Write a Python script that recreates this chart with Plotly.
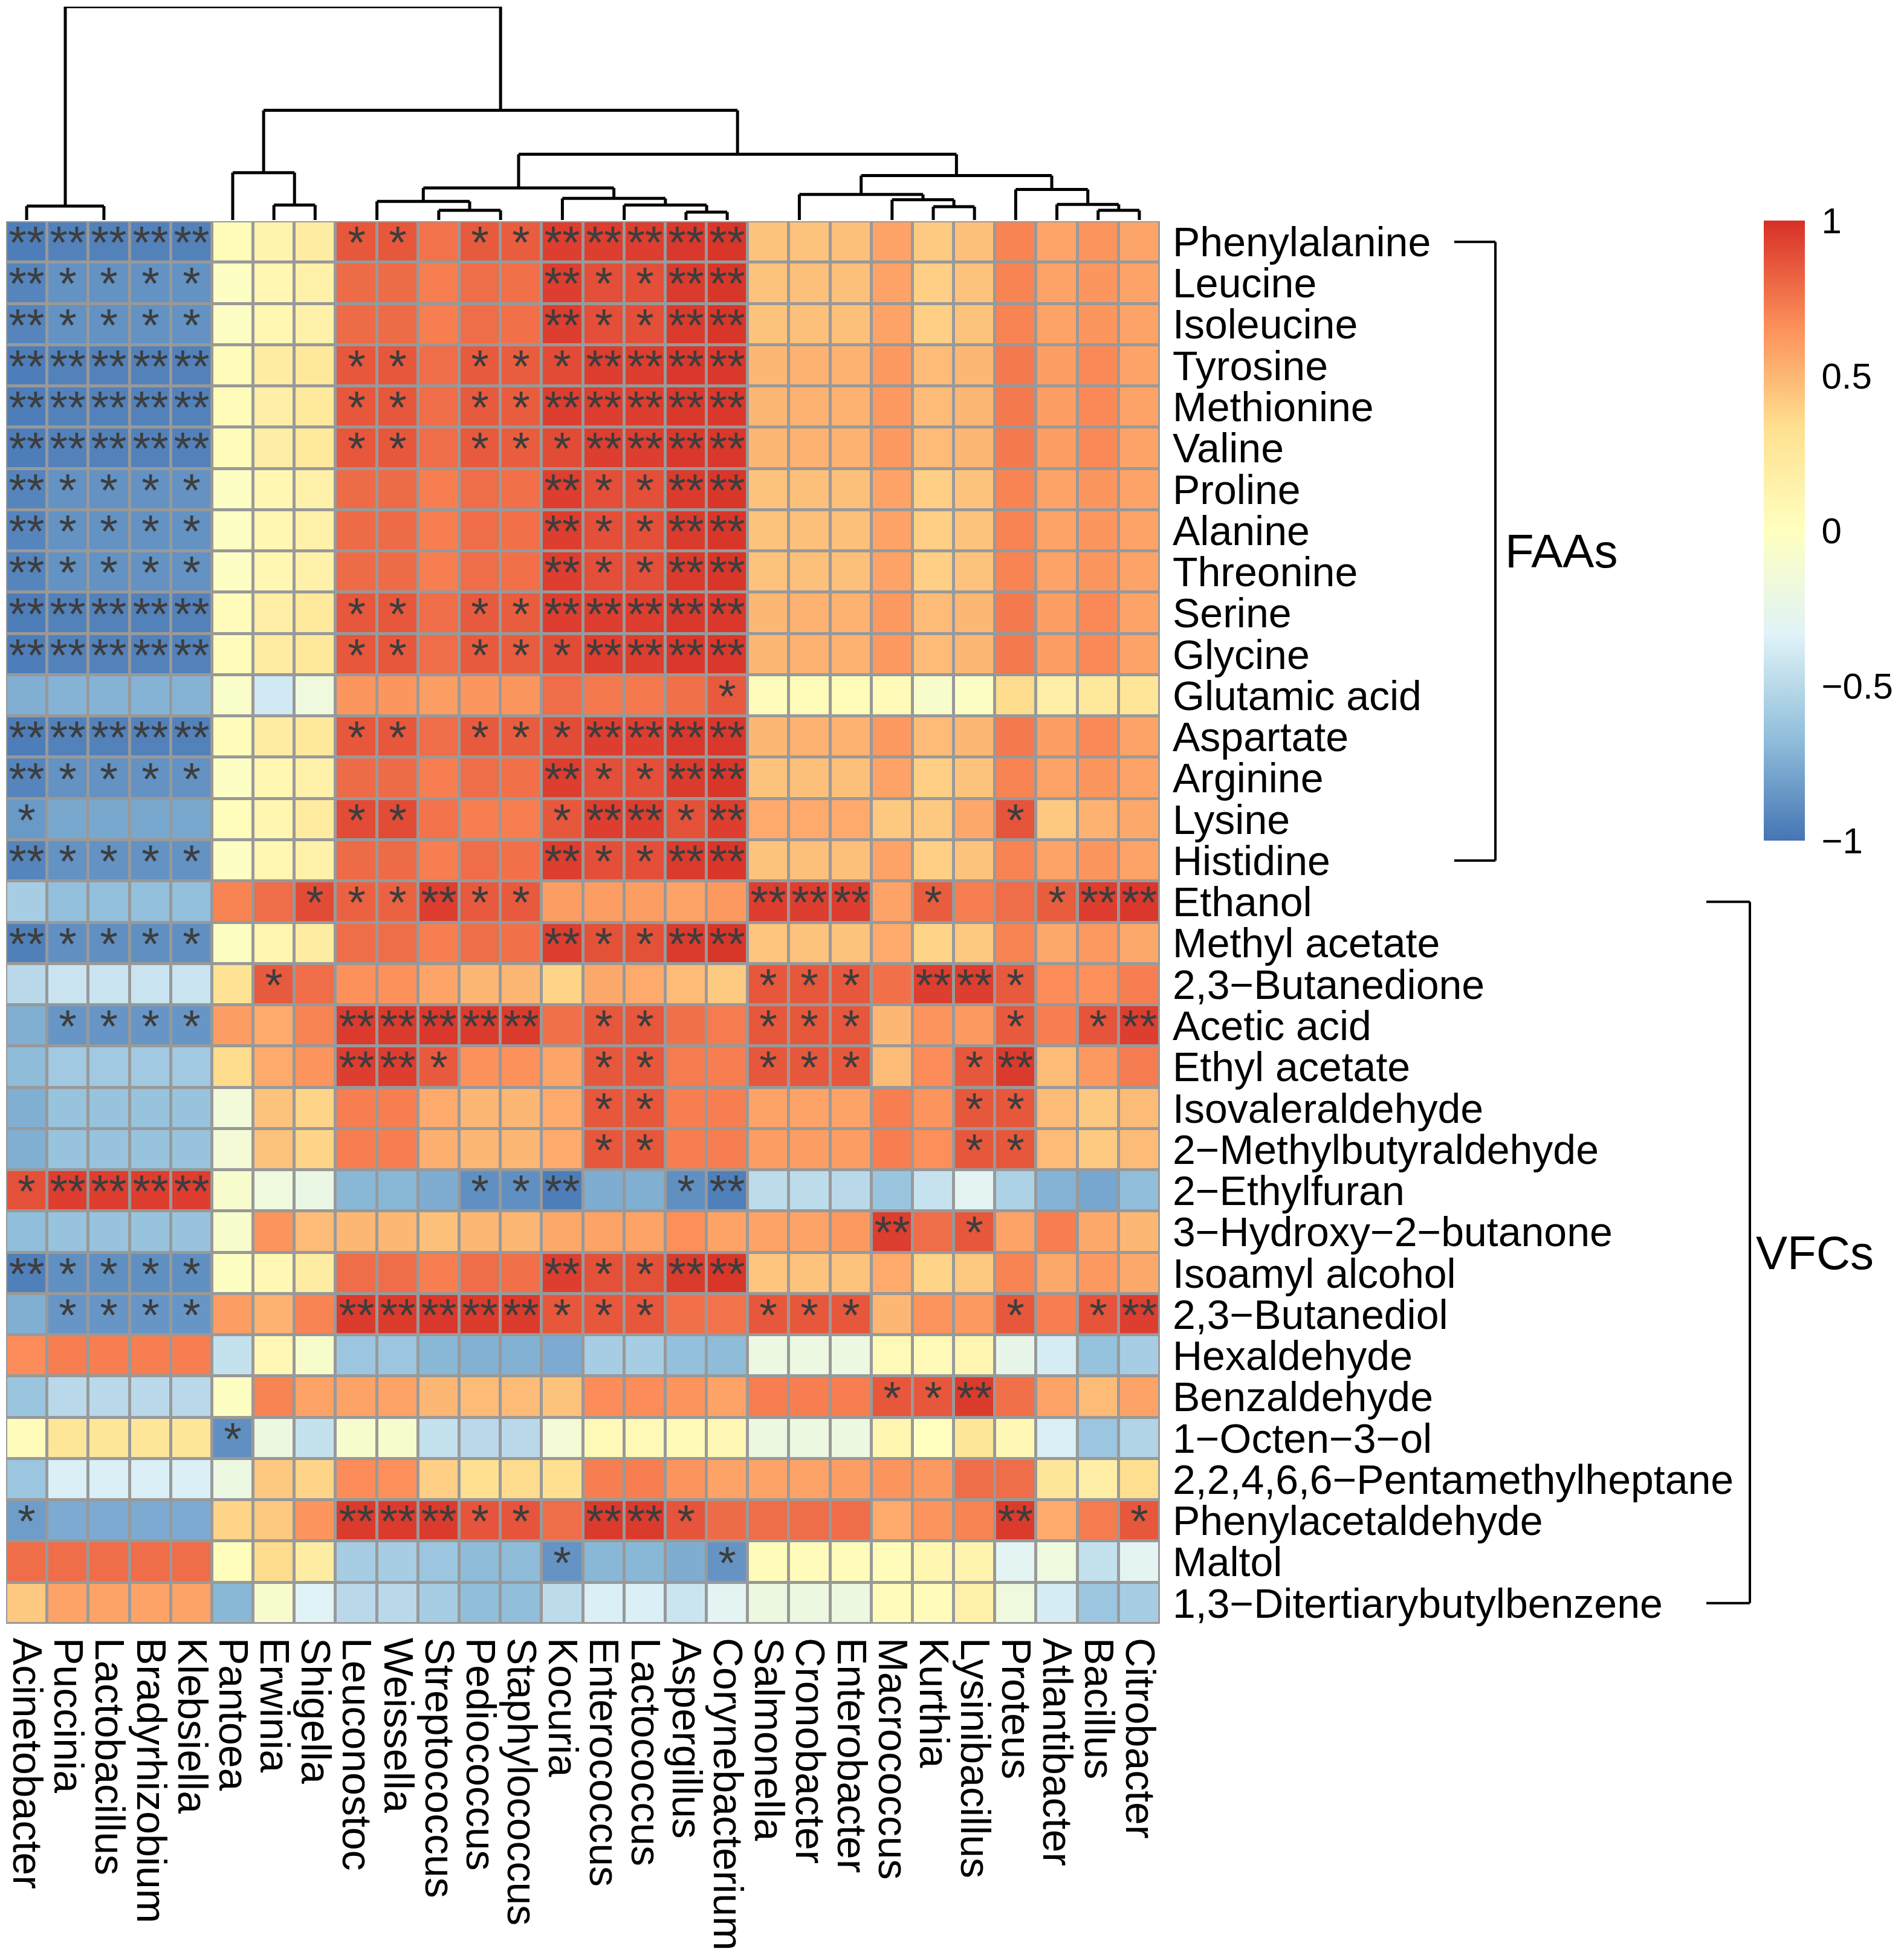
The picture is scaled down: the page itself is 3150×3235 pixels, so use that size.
import plotly.graph_objects as go

# ---------------- data ----------------
columns = ["Acinetobacter", "Puccinia", "Lactobacillus", "Bradyrhizobium", "Klebsiella",
           "Pantoea", "Erwinia", "Shigella", "Leuconostoc", "Weissella", "Streptococcus",
           "Pediococcus", "Staphylococcus", "Kocuria", "Enterococcus", "Lactococcus",
           "Aspergillus", "Corynebacterium", "Salmonella", "Cronobacter", "Enterobacter",
           "Macrococcus", "Kurthia", "Lysinibacillus", "Proteus", "Atlantibacter",
           "Bacillus", "Citrobacter"]

faa_rows = ["Phenylalanine", "Leucine", "Isoleucine", "Tyrosine", "Methionine", "Valine",
            "Proline", "Alanine", "Threonine", "Serine", "Glycine", "Glutamic acid",
            "Aspartate", "Arginine", "Lysine", "Histidine"]
vfc_rows = ["Ethanol", "Methyl acetate", "2,3\u2212Butanedione", "Acetic acid", "Ethyl acetate",
            "Isovaleraldehyde", "2\u2212Methylbutyraldehyde", "2\u2212Ethylfuran",
            "3\u2212Hydroxy\u22122\u2212butanone", "Isoamyl alcohol", "2,3\u2212Butanediol",
            "Hexaldehyde", "Benzaldehyde", "1\u2212Octen\u22123\u2212ol",
            "2,2,4,6,6\u2212Pentamethylheptane", "Phenylacetaldehyde", "Maltol",
            "1,3\u2212Ditertiarybutylbenzene"]
rows = faa_rows + vfc_rows

values = [
    # Phenylalanine
    [-0.96, -0.94, -0.94, -0.94, -0.94, 0.04, 0.12, 0.20, 0.86, 0.86, 0.76, 0.85, 0.84, 0.95,
     0.95, 0.95, 0.97, 0.98, 0.45, 0.45, 0.46, 0.58, 0.42, 0.46, 0.70, 0.57, 0.64, 0.57],
    # Leucine
    [-0.93, -0.87, -0.87, -0.87, -0.87, -0.03, 0.09, 0.15, 0.79, 0.79, 0.72, 0.78, 0.77, 0.95,
     0.89, 0.89, 0.96, 0.98, 0.45, 0.46, 0.46, 0.58, 0.40, 0.45, 0.70, 0.58, 0.63, 0.58],
    # Isoleucine
    [-0.93, -0.87, -0.87, -0.87, -0.87, -0.03, 0.09, 0.15, 0.79, 0.79, 0.72, 0.78, 0.77, 0.95,
     0.89, 0.89, 0.96, 0.98, 0.45, 0.46, 0.46, 0.58, 0.40, 0.45, 0.70, 0.58, 0.63, 0.58],
    # Tyrosine
    [-0.96, -0.94, -0.94, -0.94, -0.94, 0.03, 0.20, 0.25, 0.86, 0.86, 0.78, 0.85, 0.84, 0.90,
     0.95, 0.95, 0.97, 0.97, 0.50, 0.52, 0.52, 0.62, 0.48, 0.50, 0.74, 0.60, 0.68, 0.58],
    # Methionine
    [-0.96, -0.94, -0.94, -0.94, -0.94, 0.03, 0.18, 0.24, 0.86, 0.86, 0.78, 0.85, 0.84, 0.95,
     0.95, 0.95, 0.97, 0.97, 0.50, 0.52, 0.52, 0.62, 0.48, 0.50, 0.74, 0.60, 0.68, 0.58],
    # Valine
    [-0.96, -0.94, -0.94, -0.94, -0.94, 0.03, 0.19, 0.24, 0.86, 0.86, 0.78, 0.85, 0.84, 0.90,
     0.95, 0.95, 0.97, 0.97, 0.50, 0.52, 0.52, 0.62, 0.48, 0.50, 0.74, 0.60, 0.68, 0.58],
    # Proline
    [-0.93, -0.87, -0.87, -0.87, -0.87, -0.03, 0.09, 0.15, 0.79, 0.79, 0.72, 0.78, 0.77, 0.95,
     0.89, 0.89, 0.96, 0.98, 0.45, 0.46, 0.46, 0.58, 0.40, 0.45, 0.70, 0.58, 0.63, 0.58],
    # Alanine
    [-0.93, -0.87, -0.87, -0.87, -0.87, -0.03, 0.09, 0.15, 0.79, 0.79, 0.72, 0.78, 0.77, 0.95,
     0.89, 0.89, 0.96, 0.98, 0.45, 0.46, 0.46, 0.58, 0.40, 0.45, 0.70, 0.58, 0.63, 0.58],
    # Threonine
    [-0.93, -0.87, -0.87, -0.87, -0.87, -0.03, 0.09, 0.15, 0.79, 0.79, 0.72, 0.78, 0.77, 0.95,
     0.89, 0.89, 0.96, 0.98, 0.45, 0.46, 0.46, 0.58, 0.40, 0.45, 0.70, 0.58, 0.63, 0.58],
    # Serine
    [-0.96, -0.94, -0.94, -0.94, -0.94, 0.03, 0.18, 0.24, 0.86, 0.86, 0.78, 0.85, 0.84, 0.95,
     0.95, 0.95, 0.97, 0.97, 0.50, 0.52, 0.52, 0.62, 0.48, 0.50, 0.74, 0.60, 0.68, 0.58],
    # Glycine
    [-0.96, -0.94, -0.94, -0.94, -0.94, 0.03, 0.20, 0.25, 0.86, 0.86, 0.78, 0.85, 0.84, 0.90,
     0.95, 0.95, 0.97, 0.97, 0.50, 0.52, 0.52, 0.62, 0.48, 0.50, 0.74, 0.60, 0.68, 0.58],
    # Glutamic acid
    [-0.74, -0.72, -0.72, -0.72, -0.72, -0.06, -0.40, -0.18, 0.63, 0.63, 0.60, 0.63, 0.63, 0.78,
     0.74, 0.74, 0.77, 0.85, 0.03, 0.04, 0.04, 0.05, -0.07, -0.03, 0.35, 0.18, 0.25, 0.28],
    # Aspartate
    [-0.96, -0.94, -0.94, -0.94, -0.94, 0.03, 0.20, 0.25, 0.86, 0.86, 0.78, 0.85, 0.84, 0.90,
     0.95, 0.95, 0.97, 0.97, 0.50, 0.52, 0.52, 0.62, 0.48, 0.50, 0.74, 0.60, 0.68, 0.58],
    # Arginine
    [-0.93, -0.87, -0.87, -0.87, -0.87, -0.03, 0.09, 0.15, 0.79, 0.79, 0.72, 0.78, 0.77, 0.95,
     0.89, 0.89, 0.96, 0.98, 0.45, 0.46, 0.46, 0.58, 0.40, 0.45, 0.70, 0.58, 0.63, 0.58],
    # Lysine
    [-0.84, -0.77, -0.77, -0.77, -0.77, 0.02, 0.10, 0.22, 0.90, 0.90, 0.76, 0.72, 0.72, 0.86,
     0.95, 0.95, 0.88, 0.95, 0.55, 0.55, 0.55, 0.43, 0.43, 0.56, 0.87, 0.43, 0.52, 0.56],
    # Histidine
    [-0.93, -0.87, -0.87, -0.87, -0.87, -0.03, 0.09, 0.15, 0.79, 0.79, 0.72, 0.78, 0.77, 0.95,
     0.89, 0.89, 0.96, 0.98, 0.45, 0.46, 0.46, 0.58, 0.40, 0.45, 0.70, 0.58, 0.63, 0.58],
    # Ethanol
    [-0.58, -0.66, -0.66, -0.66, -0.66, 0.70, 0.78, 0.90, 0.82, 0.82, 0.95, 0.85, 0.85, 0.60,
     0.60, 0.60, 0.58, 0.62, 0.95, 0.95, 0.95, 0.58, 0.84, 0.72, 0.78, 0.84, 0.95, 0.97],
    # Methyl acetate
    [-0.95, -0.88, -0.88, -0.88, -0.88, -0.02, 0.10, 0.20, 0.78, 0.78, 0.72, 0.78, 0.77, 0.95,
     0.88, 0.88, 0.96, 0.98, 0.44, 0.45, 0.45, 0.55, 0.38, 0.43, 0.70, 0.56, 0.62, 0.56],
    # 2,3-Butanedione
    [-0.50, -0.43, -0.43, -0.43, -0.43, 0.30, 0.85, 0.78, 0.65, 0.65, 0.57, 0.50, 0.50, 0.38,
     0.56, 0.55, 0.48, 0.42, 0.86, 0.86, 0.86, 0.77, 0.95, 0.95, 0.85, 0.67, 0.66, 0.72],
    # Acetic acid
    [-0.74, -0.85, -0.85, -0.85, -0.85, 0.60, 0.55, 0.70, 0.96, 0.96, 0.97, 0.96, 0.96, 0.77,
     0.86, 0.86, 0.77, 0.73, 0.86, 0.86, 0.86, 0.50, 0.64, 0.62, 0.85, 0.72, 0.87, 0.95],
    # Ethyl acetate
    [-0.68, -0.60, -0.60, -0.60, -0.60, 0.35, 0.55, 0.64, 0.95, 0.95, 0.85, 0.65, 0.65, 0.57,
     0.86, 0.86, 0.73, 0.72, 0.86, 0.86, 0.86, 0.48, 0.67, 0.86, 0.96, 0.48, 0.62, 0.73],
    # Isovaleraldehyde
    [-0.74, -0.64, -0.64, -0.64, -0.64, -0.15, 0.45, 0.38, 0.72, 0.72, 0.55, 0.50, 0.50, 0.55,
     0.86, 0.86, 0.72, 0.72, 0.58, 0.58, 0.58, 0.72, 0.64, 0.86, 0.86, 0.48, 0.43, 0.48],
    # 2-Methylbutyraldehyde
    [-0.74, -0.64, -0.64, -0.64, -0.64, -0.13, 0.45, 0.38, 0.72, 0.72, 0.53, 0.50, 0.50, 0.55,
     0.86, 0.86, 0.72, 0.72, 0.60, 0.60, 0.60, 0.72, 0.66, 0.86, 0.86, 0.48, 0.42, 0.48],
    # 2-Ethylfuran
    [0.88, 0.95, 0.95, 0.95, 0.95, -0.08, -0.18, -0.22, -0.70, -0.70, -0.75, -0.88, -0.88, -0.96,
     -0.75, -0.74, -0.88, -0.95, -0.48, -0.48, -0.50, -0.63, -0.44, -0.30, -0.55, -0.72, -0.78, -0.67],
    # 3-Hydroxy-2-butanone
    [-0.67, -0.64, -0.64, -0.64, -0.64, -0.07, 0.64, 0.48, 0.50, 0.50, 0.46, 0.50, 0.50, 0.56,
     0.58, 0.58, 0.66, 0.58, 0.58, 0.58, 0.62, 0.95, 0.78, 0.86, 0.58, 0.72, 0.56, 0.50],
    # Isoamyl alcohol
    [-0.95, -0.88, -0.88, -0.88, -0.88, -0.02, 0.08, 0.20, 0.78, 0.78, 0.72, 0.78, 0.77, 0.95,
     0.88, 0.88, 0.96, 0.98, 0.44, 0.45, 0.45, 0.55, 0.38, 0.43, 0.70, 0.56, 0.62, 0.56],
    # 2,3-Butanediol
    [-0.74, -0.85, -0.85, -0.85, -0.85, 0.60, 0.52, 0.70, 0.96, 0.96, 0.97, 0.96, 0.96, 0.86,
     0.86, 0.86, 0.77, 0.76, 0.86, 0.86, 0.86, 0.50, 0.64, 0.62, 0.86, 0.72, 0.87, 0.95],
    # Hexaldehyde
    [0.67, 0.72, 0.72, 0.72, 0.72, -0.45, 0.08, -0.07, -0.62, -0.62, -0.70, -0.73, -0.73, -0.76,
     -0.58, -0.58, -0.66, -0.68, -0.20, -0.20, -0.20, 0.06, 0.05, 0.10, -0.25, -0.38, -0.65, -0.58],
    # Benzaldehyde
    [-0.63, -0.50, -0.50, -0.50, -0.50, -0.02, 0.70, 0.58, 0.58, 0.58, 0.50, 0.48, 0.48, 0.45,
     0.67, 0.67, 0.64, 0.58, 0.72, 0.72, 0.72, 0.86, 0.86, 0.96, 0.77, 0.58, 0.48, 0.58],
    # 1-Octen-3-ol
    [0.03, 0.27, 0.27, 0.27, 0.27, -0.88, -0.20, -0.45, -0.08, -0.08, -0.45, -0.50, -0.50, -0.13,
     0.06, 0.06, 0.05, 0.07, -0.20, -0.20, -0.20, 0.10, 0.00, 0.27, 0.07, -0.36, -0.62, -0.53],
    # 2,2,4,6,6-Pentamethylheptane
    [-0.62, -0.36, -0.36, -0.36, -0.36, -0.20, 0.43, 0.38, 0.67, 0.66, 0.40, 0.33, 0.35, 0.33,
     0.72, 0.72, 0.64, 0.58, 0.58, 0.58, 0.60, 0.64, 0.62, 0.78, 0.78, 0.27, 0.18, 0.33],
    # Phenylacetaldehyde
    [-0.82, -0.76, -0.76, -0.76, -0.76, 0.38, 0.43, 0.64, 0.96, 0.96, 0.96, 0.87, 0.87, 0.78,
     0.96, 0.96, 0.87, 0.79, 0.78, 0.78, 0.78, 0.55, 0.64, 0.70, 0.96, 0.55, 0.73, 0.86],
    # Maltol
    [0.78, 0.78, 0.78, 0.78, 0.78, 0.02, 0.35, 0.20, -0.58, -0.58, -0.62, -0.68, -0.68, -0.86,
     -0.70, -0.70, -0.75, -0.86, 0.03, 0.03, 0.03, 0.04, 0.10, 0.12, -0.30, -0.18, -0.45, -0.30],
    # 1,3-Ditertiarybutylbenzene
    [0.43, 0.58, 0.58, 0.58, 0.58, -0.70, -0.08, -0.33, -0.50, -0.50, -0.58, -0.67, -0.67, -0.48,
     -0.36, -0.36, -0.42, -0.30, -0.20, -0.20, -0.20, 0.03, 0.03, 0.15, -0.18, -0.38, -0.62, -0.58],
]

# significance marks: 0 = none, 1 = "*", 2 = "**" (one character per column)
star_codes = [
    "2222200011011222220000000000",  # Phenylalanine
    "2111100000000211220000000000",  # Leucine
    "2111100000000211220000000000",  # Isoleucine
    "2222200011011122220000000000",  # Tyrosine
    "2222200011011222220000000000",  # Methionine
    "2222200011011122220000000000",  # Valine
    "2111100000000211220000000000",  # Proline
    "2111100000000211220000000000",  # Alanine
    "2111100000000211220000000000",  # Threonine
    "2222200011011222220000000000",  # Serine
    "2222200011011122220000000000",  # Glycine
    "0000000000000000010000000000",  # Glutamic acid
    "2222200011011122220000000000",  # Aspartate
    "2111100000000211220000000000",  # Arginine
    "1000000011000122120000001000",  # Lysine
    "2111100000000211220000000000",  # Histidine
    "0000000111211000002220100122",  # Ethanol
    "2111100000000211220000000000",  # Methyl acetate
    "0000001000000000001110221000",  # 2,3-Butanedione
    "0111100022222011001110001012",  # Acetic acid
    "0000000022100011001110012000",  # Ethyl acetate
    "0000000000000011000000011000",  # Isovaleraldehyde
    "0000000000000011000000011000",  # 2-Methylbutyraldehyde
    "1222200000011200120000000000",  # 2-Ethylfuran
    "0000000000000000000002010000",  # 3-Hydroxy-2-butanone
    "2111100000000211220000000000",  # Isoamyl alcohol
    "0111100022222111001110001012",  # 2,3-Butanediol
    "0000000000000000000000000000",  # Hexaldehyde
    "0000000000000000000001120000",  # Benzaldehyde
    "0000010000000000000000000000",  # 1-Octen-3-ol
    "0000000000000000000000000000",  # 2,2,4,6,6-Pentamethylheptane
    "1000000022211022100000002001",  # Phenylacetaldehyde
    "0000000000000100010000000000",  # Maltol
    "0000000000000000000000000000",  # 1,3-Ditertiarybutylbenzene
]
star_symbols = {"0": "", "1": "*", "2": "**"}

# column dendrogram: (left, right, merge height); ints are column indices
col_tree = (
    (0, (1, (2, (3, 4, 0.0), 0.0), 0.0), 6.5),
    (
        (5, (6, 7, 7.0), 22.2),
        (
            (
                ((8, 9, 0.0), (10, (11, 12, 0.0), 4.5), 8.7),
                (13, ((14, 15, 0.0), (16, 17, 3.7), 7.0), 10.1),
                15.0,
            ),
            (
                ((18, (19, 20, 0.0), 0.0), (21, (22, 23, 6.2), 9.5), 12.0),
                (24, (25, (26, 27, 4.5), 7.3), 14.3),
                20.8,
            ),
            30.8,
        ),
        51.4,
    ),
    100.0,
)

colorbar_ticks = [-1, -0.5, 0, 0.5, 1]
colorbar_labels = ["\u22121", "\u22120.5", "0", "0.5", "1"]

# ---------------- layout helpers ----------------
OFF = 8                      # default page margin of the html body
W, H = 3150 - 2 * OFF, 3235 - 2 * OFF
FONT = "Liberation Sans, Arial, Helvetica, sans-serif"


def fx(px):
    return min(1.0, max(0.0, (px - OFF) / W))


def fy(py):
    return min(1.0, max(0.0, 1 - (py - OFF) / H))


stars = [[star_symbols[c] for c in code] for code in star_codes]

colorscale = [
    [0.0, "#4575B4"], [1 / 6, "#91BFDB"], [2 / 6, "#E0F3F8"], [3 / 6, "#FFFFBF"],
    [4 / 6, "#FEE090"], [5 / 6, "#FC8D59"], [1.0, "#D73027"],
]

fig = go.Figure()

# grey background under the cells for the grid
fig.add_shape(type="rect", xref="x", yref="y", x0=-0.5, x1=len(columns) - 0.5,
              y0=-0.5, y1=len(rows) - 0.5, fillcolor="#999999",
              line=dict(color="#999999", width=5), layer="below")

fig.add_trace(go.Heatmap(
    z=values, x=columns, y=rows, text=stars, texttemplate="%{text}",
    textfont=dict(family=FONT, size=76, color="#3d3d3d"),
    zmin=-1, zmax=1, colorscale=colorscale, xgap=5, ygap=5,
    colorbar=dict(
        x=fx(2918), xanchor="left", xref="paper", xpad=0,
        y=fy(878), yanchor="middle", yref="paper", ypad=0,
        len=1026 / H, lenmode="fraction", thickness=68, thicknessmode="pixels",
        outlinewidth=0, tickmode="array", tickvals=colorbar_ticks, ticktext=colorbar_labels,
        ticks="outside", ticklen=16, tickcolor="rgba(0,0,0,0)",
        tickfont=dict(family=FONT, size=60, color="black"),
    ),
    xaxis="x", yaxis="y", hoverinfo="skip",
))

# dendrogram segments
seg_x, seg_y = [], []


def draw(node):
    if isinstance(node, int):
        return float(node), 0.0
    left, right, h = node
    lx, lh = draw(left)
    rx, rh = draw(right)
    if h > 0:
        seg_x.extend([lx, lx, None, rx, rx, None, lx, rx, None])
        seg_y.extend([lh, h, None, rh, h, None, h, h, None])
    return (lx + rx) / 2, h


draw(col_tree)
fig.add_trace(go.Scatter(x=seg_x, y=seg_y, mode="lines",
                         line=dict(color="black", width=5),
                         xaxis="x2", yaxis="y2", hoverinfo="skip", showlegend=False,
                         cliponaxis=False))

heat_x = [fx(10), fx(1919)]
heat_y = [fy(2687), fy(366)]

fig.update_layout(
    width=W, height=H, margin=dict(l=0, r=0, t=0, b=0),
    paper_bgcolor="white", plot_bgcolor="rgba(0,0,0,0)", showlegend=False,
    font=dict(family=FONT, color="black"),
    xaxis=dict(domain=heat_x, anchor="y", range=[-0.5, len(columns) - 0.5],
               tickmode="array", tickvals=columns, ticktext=columns, tickangle=90,
               tickfont=dict(family=FONT, size=68, color="black"), ticks="",
               ticklabelstandoff=22, showgrid=False, zeroline=False, showline=False,
               automargin=False),
    yaxis=dict(domain=heat_y, anchor="x", range=[len(rows) - 0.5, -0.5], side="right",
               tickmode="array", tickvals=rows, ticktext=rows,
               tickfont=dict(family=FONT, size=68, color="black"), ticks="",
               ticklabelstandoff=20, showgrid=False, zeroline=False, showline=False,
               automargin=False),
    xaxis2=dict(domain=heat_x, anchor="y2", range=[-0.5, len(columns) - 0.5],
                visible=False, showgrid=False, zeroline=False),
    yaxis2=dict(domain=[fy(364), fy(11)], anchor="x2", range=[0, 100],
                visible=False, showgrid=False, zeroline=False),
)


# group brackets
def bracket(first, last, x_tick, x_bar, label, x_label):
    i0, i1 = rows.index(first), rows.index(last)
    line = dict(color="black", width=4)
    fig.add_shape(type="line", xref="paper", yref="y", x0=x_tick, x1=x_bar, y0=i0, y1=i0, line=line)
    fig.add_shape(type="line", xref="paper", yref="y", x0=x_tick, x1=x_bar, y0=i1, y1=i1, line=line)
    fig.add_shape(type="line", xref="paper", yref="y", x0=x_bar, x1=x_bar, y0=i0, y1=i1, line=line)
    fig.add_annotation(x=x_label, xref="paper", xanchor="left", y=(i0 + i1) / 2, yref="y",
                       yanchor="middle", text=label, showarrow=False,
                       font=dict(family=FONT, size=78, color="black"))


bracket(faa_rows[0], faa_rows[-1], fx(2406), fx(2474), "FAAs", fx(2488))
bracket(vfc_rows[0], vfc_rows[-1], fx(2823), fx(2895), "VFCs", fx(2903))

fig.write_html("out.html")
